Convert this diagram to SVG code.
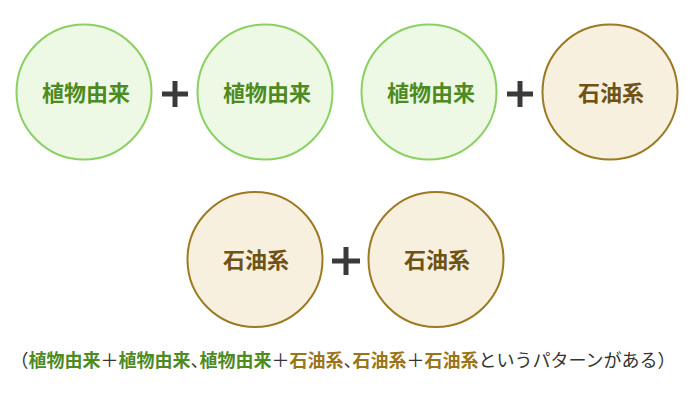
<svg xmlns="http://www.w3.org/2000/svg" width="690" height="400" viewBox="0 0 690 400">
<style>
.plant circle{fill:#eef9e5;stroke:#8ad062;stroke-width:2}
.oil circle{fill:#f8f0de;stroke:#9b7a22;stroke-width:2}
.lbl{font-family:"Noto Sans CJK JP",sans-serif;font-weight:bold;font-size:22px;text-anchor:middle}
.plant .lbl{fill:#4d8a1f}
.oil .lbl{fill:#6e5315}
.plus{stroke:#3a3a3a;stroke-width:5}
.note{font-family:"Noto Sans CJK JP",sans-serif;font-size:18px;fill:#333}
.g{fill:#4d8a1f;font-weight:bold}
.b{fill:#9a7518;font-weight:bold}
.h{font-feature-settings:"halt"}
</style>
<rect width="690" height="400" fill="#fff"/>
<g id="n1" class="plant"><circle cx="84" cy="92" r="67.5"/><text class="lbl" x="86" y="101">植物由来</text></g>
<g id="n2" class="plant"><circle cx="265" cy="92" r="67.5"/><text class="lbl" x="267" y="101">植物由来</text></g>
<g id="n3" class="plant"><circle cx="429" cy="92" r="67.5"/><text class="lbl" x="431" y="101">植物由来</text></g>
<g id="n4" class="oil"><circle cx="610" cy="92" r="67.5"/><text class="lbl" x="611" y="101">石油系</text></g>
<g id="n5" class="oil"><circle cx="255" cy="259.5" r="67.5"/><text class="lbl" x="256" y="268">石油系</text></g>
<g id="n6" class="oil"><circle cx="436" cy="259.5" r="67.5"/><text class="lbl" x="437" y="268">石油系</text></g>
<g id="connectors">
<path class="plus" d="M162 94H188M175 81V107"/>
<path class="plus" d="M507 94H533M520 81V107"/>
<path class="plus" d="M332 261H360M346 247V275"/>
</g>
<g id="caption">
<text class="note" x="19.5" y="367"><tspan class="h">（</tspan><tspan class="g">植物由来</tspan><tspan>＋</tspan><tspan class="g">植物由来</tspan><tspan class="h">、</tspan><tspan class="g">植物由来</tspan><tspan>＋</tspan><tspan class="b">石油系</tspan><tspan class="h">、</tspan><tspan class="b">石油系</tspan><tspan>＋</tspan><tspan class="b">石油系</tspan><tspan>というパターンがある</tspan><tspan class="h">）</tspan></text>
</g>
</svg>
